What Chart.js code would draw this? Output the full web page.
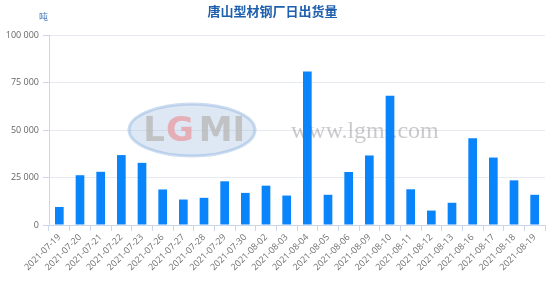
<!DOCTYPE html>
<html>
<head>
<meta charset="utf-8">
<script src="https://cdn.jsdelivr.net/npm/chart.js@4/dist/chart.umd.min.js"></script>
<style>
html,body{margin:0;padding:0;background:#fff;}
#wrap{width:554px;height:285px;position:relative;}
</style>
</head>
<body>
<div id="wrap"><canvas id="c" width="554" height="285"></canvas></div>
<script>
const chartTitle = '唐山型材钢厂日出货量';
const unitLabel = '吨';
const categories = ['2021-07-19','2021-07-20','2021-07-21','2021-07-22','2021-07-23','2021-07-26','2021-07-27','2021-07-28','2021-07-29','2021-07-30','2021-08-02','2021-08-03','2021-08-04','2021-08-05','2021-08-06','2021-08-09','2021-08-10','2021-08-11','2021-08-12','2021-08-13','2021-08-16','2021-08-17','2021-08-18','2021-08-19'];
const shipments = [9500,26200,28000,36800,32700,18700,13400,14300,23000,16900,20700,15500,80800,15900,27900,36600,68000,18800,7600,11700,45600,35500,23500,15900];
const yTicks = [0,25000,50000,75000,100000];

const watermark = {
  id:'watermark',
  beforeDatasetsDraw(chart){
    const ctx = chart.ctx;
    ctx.save();
    const cx = 192, cy = 130;
    ctx.globalAlpha = 0.35;
    ctx.beginPath();
    ctx.ellipse(cx, cy, 63, 26, 0, 0, Math.PI*2);
    ctx.fillStyle = '#9fbde0';
    ctx.fill();
    ctx.lineWidth = 3;
    ctx.strokeStyle = '#6f9fd6';
    ctx.stroke();
    ctx.globalAlpha = 0.8;
    ctx.font = 'bold 34px "DejaVu Sans"';
    ctx.textAlign = 'center';
    ctx.textBaseline = 'middle';
    ctx.fillStyle = '#b9b9b9';
    ctx.fillText('L', cx-38, cy+2);
    ctx.fillStyle = '#e8a0a8';
    ctx.fillText('G', cx-12, cy+2);
    ctx.fillStyle = '#b9b9b9';
    ctx.fillText('MI', cx+30, cy+2);
    ctx.globalAlpha = 0.45;
    ctx.fillStyle = '#8a8a8a';
    ctx.font = '24px "Liberation Serif"';
    ctx.textAlign = 'left';
    ctx.fillText('www.lgmi.com', 291, 132);
    ctx.restore();
  },
  afterDraw(chart){
    const ctx = chart.ctx;
    ctx.save();
    ctx.fillStyle = '#4a7cc0';
    ctx.font = '9px "Noto Sans CJK SC"';
    ctx.textAlign = 'left';
    ctx.textBaseline = 'middle';
    ctx.fillText(unitLabel, 39, 17);
    ctx.restore();
  }
};

new Chart(document.getElementById('c'), {
  type:'bar',
  data:{
    labels: categories,
    datasets:[{
      data: shipments,
      backgroundColor:'#0a84fb',
      borderWidth:0,
      barPercentage:0.42,
      categoryPercentage:1.0
    }]
  },
  options:{
    responsive:false,
    animation:false,
    layout:{padding:{left:0,right:9,top:0,bottom:0}},
    plugins:{
      legend:{display:false},
      tooltip:{enabled:false},
      title:{
        display:true,
        text: chartTitle,
        color:'#1e5fae',
        font:{family:'"Noto Sans CJK SC"', size:13, weight:'bold'},
        padding:{top:3,bottom:16.4}
      }
    },
    scales:{
      x:{
        offset:true,
        grid:{offset:true, drawOnChartArea:false, drawTicks:true, tickLength:6, color:'#ccd6eb'},
        border:{color:'#ccd6eb'},
        ticks:{
          autoSkip:false, maxRotation:45, minRotation:45,
          color:'#707070', font:{family:'"Open Sans"', size:9}, padding:1
        },
        afterFit(scale){ scale.height = 60; }
      },
      y:{
        min:0, max:100000,
        afterBuildTicks(scale){ scale.ticks = yTicks.map(v=>({value:v})); },
        grid:{color:'#e6e9ef', drawTicks:true, tickLength:6, tickColor:'#ccd6eb'},
        border:{color:'#ccd6eb', display:true},
        ticks:{
          color:'#666', font:{family:'"Open Sans"', size:9}, padding:4,
          callback(v){ return String(v).replace(/\B(?=(\d{3})+(?!\d))/g,' '); }
        },
        afterFit(scale){ scale.width = 49; }
      }
    }
  },
  plugins:[watermark]
});
</script>
</body>
</html>
